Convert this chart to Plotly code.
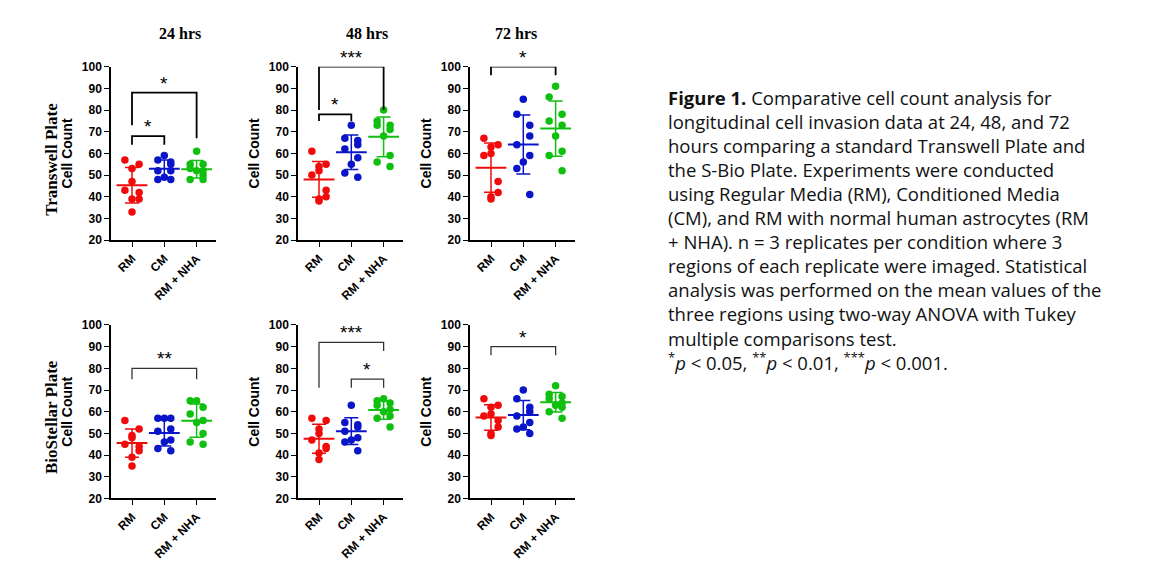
import numpy as np
import plotly.graph_objects as go

groups = ["RM", "CM", "RM + NHA"]
colors = ["#f00a0a", "#0a14c8", "#10c010"]
times = ["24 hrs", "48 hrs", "72 hrs"]
plates = ["Transwell Plate", "BioStellar Plate"]

t24_rm = [57, 55, 53, 47, 43, 42, 39, 39, 33]
t24_cm = [59, 57, 56, 55, 52, 52, 49, 48, 48]
t24_nha = [61, 55, 55, 53, 52, 52, 50, 48, 48]
t48_rm = [61, 55, 54, 52, 50, 43, 40, 39, 38]
t48_cm = [73, 67, 66, 64, 62, 58, 55, 51, 49]
t48_nha = [80, 75, 73, 73, 71, 68, 59, 56, 54]
t72_rm = [67, 64, 63, 60, 59, 47, 42, 40, 39]
t72_cm = [85, 78, 73, 68, 64, 59, 56, 53, 41]
t72_nha = [91, 86, 78, 75, 73, 68, 61, 59, 52]
b24_rm = [56, 52, 49, 48, 45, 44, 42, 39, 35]
b24_cm = [57, 57, 57, 52, 51, 47, 46, 43, 42]
b24_nha = [65, 65, 62, 59, 56, 55, 50, 46, 45]
b48_rm = [57, 56, 52, 50, 47, 44, 43, 41, 38]
b48_cm = [63, 55, 54, 53, 51, 48, 47, 46, 42]
b48_nha = [66, 65, 64, 63, 61, 60, 58, 57, 53]
b72_rm = [66, 63, 62, 59, 58, 56, 53, 50, 49]
b72_cm = [70, 66, 62, 60, 58, 55, 53, 52, 50]
b72_nha = [72, 68, 67, 66, 64, 63, 62, 60, 57]

data = [[[t24_rm, t24_cm, t24_nha], [t48_rm, t48_cm, t48_nha], [t72_rm, t72_cm, t72_nha]],
        [[b24_rm, b24_cm, b24_nha], [b48_rm, b48_cm, b48_nha], [b72_rm, b72_cm, b72_nha]]]

# brackets: (g1, g2, bar level, left leg end, right leg end, label)
brackets = [
    [[(0, 1, 68, 64, 64, "*"), (0, 2, 88, 73, 67, "*")],
     [(0, 1, 78, 75, 75, "*"), (0, 2, 100, 80, 80, "***")],
     [(0, 2, 100, 96, 96, "*")]],
    [[(0, 2, 80, 75, 75, "**")],
     [(0, 2, 92, 71, 88, "***"), (1, 2, 75, 71, 71, "*")],
     [(0, 2, 90, 86, 86, "*")]],
]

jit_alt = [[-0.22, 0.22, 0.0, 0.0, -0.22, 0.22, 0.22, 0.0, 0.0],
           [0.0, -0.2, 0.2, 0.2, -0.2, 0.2, 0.0, -0.2, 0.2],
           [0.0, -0.2, 0.2, -0.2, 0.2, 0.0, 0.2, -0.2, 0.2]]

OFF = 8  # page body margin
W, H = 1166 - 2 * OFF, 570 - 2 * OFF


def px(p):
    return (p - OFF) / W


def py(p):
    return 1 - (p - OFF) / H


axis_left = [111, 298, 470]
pw = 105
row_top = [[61, 239], [326, 504]]

fig = go.Figure()
for r in range(2):
    for c in range(3):
        k = r * 3 + c + 1
        xa = "x" if k == 1 else f"x{k}"
        ya = "y" if k == 1 else f"y{k}"
        for g in range(3):
            vals = np.array(data[r][c][g], dtype=float)
            xs = [g + j for j in jit_alt[g]]
            fig.add_trace(go.Scatter(x=xs, y=vals, mode="markers", xaxis=xa, yaxis=ya,
                                     marker=dict(color=colors[g], size=7.5), showlegend=False,
                                     cliponaxis=False))
            m, s = vals.mean(), vals.std(ddof=1)
            fig.add_trace(go.Scatter(x=[g], y=[m], mode="markers", xaxis=xa, yaxis=ya,
                                     marker=dict(symbol="line-ew", size=22, line=dict(color=colors[g], width=2)),
                                     error_y=dict(type="data", array=[s], color=colors[g], thickness=1.5, width=7),
                                     showlegend=False))
        lw = 1.8 if r == 0 else 1.3
        lc = "black" if r == 0 else "#333"
        for (g1, g2, lev, l1, l2, lab) in brackets[r][c]:
            fig.add_trace(go.Scatter(x=[g1, g1, g2, g2], y=[l1, lev, lev, l2], mode="lines",
                                     xaxis=xa, yaxis=ya, line=dict(color=lc, width=lw),
                                     showlegend=False, cliponaxis=False, hoverinfo="skip"))
            fig.add_annotation(x=(g1 + g2) / 2, y=lev, xref=xa, yref=ya, text=lab, showarrow=False,
                               yanchor="bottom", yshift=-3, font=dict(size=19, color="black", family="Arial"))
        fig.layout[f"xaxis{'' if k == 1 else k}"] = dict(
            domain=[px(axis_left[c]), px(axis_left[c] + pw)], anchor=ya, range=[-0.65, 2.6],
            tickvals=[0, 1, 2], ticktext=groups,
            tickangle=-45, showline=True, linecolor="black", linewidth=1.5, ticks="outside",
            ticklen=5, tickcolor="black", showgrid=False, zeroline=False,
            tickfont=dict(family="Arial", size=12, color="black", weight="bold"))
        fig.layout[f"yaxis{'' if k == 1 else k}"] = dict(
            domain=[py(row_top[r][1]), py(row_top[r][0])], anchor=xa, range=[20, 100], dtick=10,
            showline=True, linecolor="black",
            linewidth=1.5, ticks="outside", ticklen=5, tickcolor="black", showgrid=False, zeroline=False,
            tickfont=dict(family="Arial", size=12, color="black", weight="bold"),
            title=dict(text="<b>Cell Count</b>", font=dict(family="Arial", size=14, color="black"), standoff=6))

for c, t in enumerate(times):
    fig.add_annotation(x=px(axis_left[c] + 46), y=py(27), xref="paper", yref="paper",
                       text=f"<b>{t}</b>", showarrow=False, yanchor="middle",
                       font=dict(family="Liberation Serif", size=16, color="black"))
for r, p in enumerate(plates):
    fig.add_annotation(x=px(40), y=py((row_top[r][0] + row_top[r][1]) / 2 + 6), xref="paper",
                       yref="paper", text=f"<b>{p}</b>", showarrow=False, textangle=-90,
                       yanchor="middle", font=dict(family="Liberation Serif", size=17, color="black"))

caption = ("<b>Figure 1.</b> Comparative cell count analysis for<br>"
           "longitudinal cell invasion data at 24, 48, and 72<br>"
           "hours comparing a standard Transwell Plate and<br>"
           "the S-Bio Plate. Experiments were conducted<br>"
           "using Regular Media (RM), Conditioned Media<br>"
           "(CM), and RM with normal human astrocytes (RM<br>"
           "+ NHA). n = 3 replicates per condition where 3<br>"
           "regions of each replicate were imaged. Statistical<br>"
           "analysis was performed on the mean values of the<br>"
           "three regions using two-way ANOVA with Tukey<br>"
           "multiple comparisons test.<br>"
           "<sup>*</sup><i>p</i> &lt; 0.05, <sup>**</sup><i>p</i> &lt; 0.01, <sup>***</sup><i>p</i> &lt; 0.001.")
fig.add_annotation(x=px(666), y=py(78), xref="paper", yref="paper", text=caption, showarrow=False,
                   xanchor="left", yanchor="top", align="left",
                   font=dict(family="Open Sans", size=18.5, color="#111"))

fig.update_layout(width=W, height=H, margin=dict(l=0, r=0, t=0, b=0),
                  paper_bgcolor="white", plot_bgcolor="white")
fig.write_html("out.html")
